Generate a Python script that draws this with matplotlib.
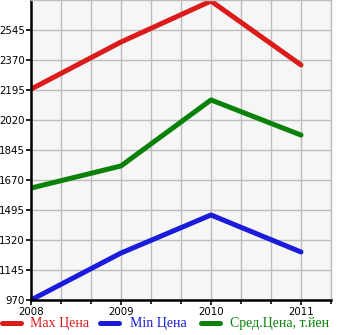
import matplotlib
matplotlib.use("Agg")
import matplotlib.pyplot as plt
from matplotlib.lines import Line2D
from matplotlib.ticker import MultipleLocator

# Цены по годам
years = [2008, 2009, 2010, 2011]
max_price = [2200, 2475, 2714, 2341]
min_price = [970, 1244, 1466, 1250]
avg_price = [1623, 1752, 2137, 1932]

y_ticks = [970, 1145, 1320, 1495, 1670, 1845, 2020, 2195, 2370, 2545]

red = "#dc1b1b"
blue = "#1b1bdc"
green = "#0a820a"

fig = plt.figure(figsize=(3.45, 3.35), dpi=100)
ax = fig.add_axes([31 / 345, 35 / 335, 300 / 345, 300 / 335])
ax.set_facecolor("#f6f6f6")

ax.plot(years, max_price, color=red, lw=3.6, solid_capstyle="round")
ax.plot(years, min_price, color=blue, lw=3.6, solid_capstyle="round")
ax.plot(years, avg_price, color=green, lw=3.6, solid_capstyle="round")

ax.set_xlim(2008, 2011 + 1 / 3)
ax.set_ylim(970, 2720)
ax.set_xticks(years)
ax.xaxis.set_minor_locator(MultipleLocator(1 / 3))
ax.set_yticks(y_ticks)

ax.grid(True, which="both", color="#bdbdbd", lw=1)
ax.set_axisbelow(True)
for side in ("top", "right"):
    ax.spines[side].set_color("#bdbdbd")
    ax.spines[side].set_linewidth(1)
for side in ("left", "bottom"):
    ax.spines[side].set_color("black")
    ax.spines[side].set_linewidth(1.8)

ax.tick_params(which="both", direction="out", length=3.5, width=1.2, color="black")
ax.tick_params(axis="x", which="minor", length=3)
ax.tick_params(axis="both", labelsize=7.4)
ax.tick_params(axis="x", pad=1.5)
ax.tick_params(axis="y", pad=0.8)

# легенда внизу
legend_items = [
    (red, "Max Цена", 0 / 345, 30 / 345),
    (blue, "Min Цена", 98 / 345, 130 / 345),
    (green, "Сред.Цена, т.йен", 199 / 345, 230 / 345),
]
ly = 1 - 323 / 335
for color, label, x0, xt in legend_items:
    fig.add_artist(Line2D([x0 + 2 / 345, x0 + 21 / 345], [ly, ly], color=color,
                          lw=3.6, solid_capstyle="round", transform=fig.transFigure))
    fig.text(xt, ly, label, color=color, fontsize=10,
             family="Liberation Serif", va="center", ha="left")

fig.savefig("out.png", dpi=100)
